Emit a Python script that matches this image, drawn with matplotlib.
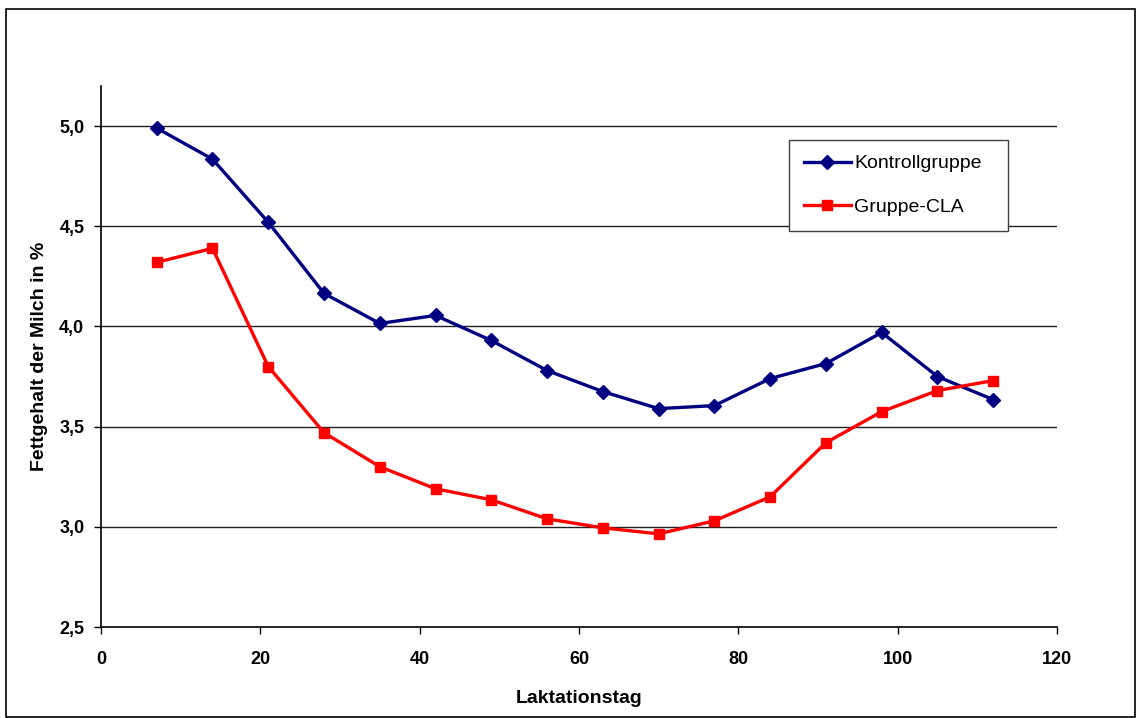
import matplotlib
matplotlib.use("Agg")
import matplotlib.pyplot as plt
from matplotlib.patches import Rectangle
from matplotlib.ticker import FuncFormatter

# Fettgehalt je Laktationstag
tage = [7, 14, 21, 28, 35, 42, 49, 56, 63, 70, 77, 84, 91, 98, 105, 112]
kontrolle = [4.99, 4.835, 4.52, 4.165, 4.015, 4.055, 3.93, 3.78, 3.675, 3.59,
             3.605, 3.74, 3.815, 3.97, 3.75, 3.635]
cla = [4.32, 4.39, 3.80, 3.47, 3.30, 3.19, 3.135, 3.04, 2.995, 2.965,
       3.03, 3.15, 3.42, 3.575, 3.68, 3.73]

plt.rcParams['font.family'] = ['Liberation Sans', 'DejaVu Sans']

fig = plt.figure(figsize=(11.37, 7.18), dpi=100)
ax = fig.add_axes([0.0888, 0.1267, 0.8408, 0.7535])

ax.plot(tage, kontrolle, color='#000080', lw=2.4, marker='D', ms=7.5,
        label='Kontrollgruppe', zorder=3)
ax.plot(tage, cla, color='#FF0000', lw=2.4, marker='s', ms=7,
        label='Gruppe-CLA', zorder=3)

ax.set_xlim(0, 120)
ax.set_ylim(2.5, 5.2)
ax.set_xticks(range(0, 121, 20))
ax.set_yticks([2.5, 3.0, 3.5, 4.0, 4.5, 5.0])
ax.yaxis.set_major_formatter(FuncFormatter(lambda v, p: f"{v:.1f}".replace('.', ',')))

for y in [3.0, 3.5, 4.0, 4.5, 5.0]:
    ax.axhline(y, color='#202020', lw=1.0, zorder=1)

for s in ['top', 'right']:
    ax.spines[s].set_visible(False)
for s in ['left', 'bottom']:
    ax.spines[s].set_linewidth(1.2)
    ax.spines[s].set_color('black')

ax.tick_params(direction='out', length=5, width=1, labelsize=13)
ax.tick_params(axis='x', pad=12)
ax.tick_params(axis='y', pad=7)
for lab in ax.get_xticklabels() + ax.get_yticklabels():
    lab.set_fontweight('bold')

ax.set_xlabel('Laktationstag', fontsize=14, fontweight='bold', labelpad=16)
ax.set_ylabel('Fettgehalt der Milch in %', fontsize=14, fontweight='bold', labelpad=8)

leg = ax.legend(loc='upper left', bbox_to_anchor=(0.72, 0.9, 0.229, 0),
                mode='expand', fontsize=14,
                frameon=True, fancybox=False, framealpha=1, handlelength=2.4,
                borderpad=0.75, labelspacing=1.35, handletextpad=0.2,
                borderaxespad=0)
leg.get_frame().set_edgecolor('#404040')
leg.get_frame().set_linewidth(1.0)

fig.add_artist(Rectangle((0.005, 0.002), 0.993, 0.986, transform=fig.transFigure,
                         fill=False, edgecolor='black', lw=1.2))

fig.savefig('out.png', dpi=100)
